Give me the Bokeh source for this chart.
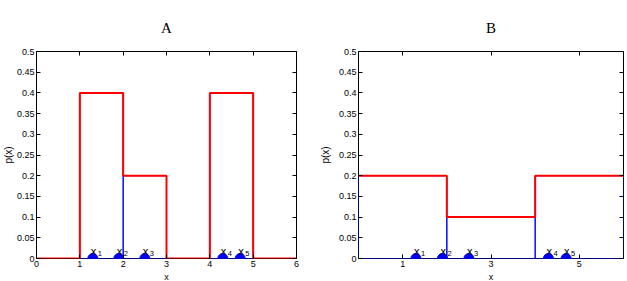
from bokeh.plotting import figure
from bokeh.layouts import row
from bokeh.models import LinearAxis, FixedTicker, Range1d, ColumnDataSource, Title
from bokeh.core.properties import value
from bokeh.embed import file_html
from bokeh.resources import INLINE

# ---------------- data ----------------
edges_a = [0, 1, 2, 3, 4, 5, 6]
density_a = [0, 0.4, 0.2, 0, 0.4, 0]
edges_b = [0, 2, 4, 6]
density_b = [0.2, 0.1, 0.2]
samples = [1.3, 1.9, 2.5, 4.3, 4.7]
sample_subs = ["1", "2", "3", "4", "5"]
xticks_a = [0, 1, 2, 3, 4, 5, 6]
xticks_b = [1, 3, 5]
yticks = [0, 0.05, 0.1, 0.15, 0.2, 0.25, 0.3, 0.35, 0.4, 0.45, 0.5]
titles = ["A", "B"]

FONT = "Liberation Sans"
RED = "#ff0000"
BLUE = "#0000ff"


def make_panel(title, edges, dens, xticks, width, b_left, b_right, ylab_standoff):
    p = figure(width=width, height=281, output_backend="svg", toolbar_location=None,
               x_range=Range1d(0, 6), y_range=Range1d(0, 0.5),
               min_border_left=b_left, min_border_right=b_right,
               min_border_top=51, min_border_bottom=22)
    p.grid.visible = False
    p.outline_line_color = "black"
    p.outline_line_width = 1
    p.background_fill_color = "white"
    p.border_fill_color = "white"

    p.title.text = title
    p.title.text_font = "Liberation Serif"
    p.title.text_font_size = "15px"
    p.title.text_font_style = "normal"
    p.title.text_color = "black"
    p.title.align = "center"
    p.title.standoff = 31

    for ax in (p.xaxis[0], p.yaxis[0]):
        ax.major_tick_in = 4
        ax.major_tick_out = 0
        ax.minor_tick_line_color = None
        ax.axis_line_color = None
        ax.major_label_text_font = FONT
        ax.major_label_text_font_size = "9px"
        ax.major_label_text_color = "black"
        ax.major_label_standoff = 2
    p.xaxis[0].ticker = FixedTicker(ticks=xticks)
    p.yaxis[0].ticker = FixedTicker(ticks=yticks)
    p.yaxis[0].major_label_overrides = {t: ("%g" % t) for t in yticks}

    # mirrored ticks on top and right
    top = LinearAxis(ticker=FixedTicker(ticks=xticks))
    right = LinearAxis(ticker=FixedTicker(ticks=yticks))
    top.major_label_overrides = {t: "" for t in xticks}
    right.major_label_overrides = {t: "" for t in yticks}
    for ax in (top, right):
        ax.major_tick_in = 4
        ax.major_tick_out = 0
        ax.minor_tick_line_color = None
        ax.axis_line_color = None
        ax.major_label_standoff = 0
    p.add_layout(top, "above")
    p.add_layout(right, "right")

    # axis titles as side-panel titles
    ylab = Title(text="p(x)", text_font=FONT, text_font_size="10px", text_font_style="normal",
                 text_color="black", align="center", standoff=ylab_standoff)
    p.add_layout(ylab, "left")
    xlab = Title(text="x", text_font=FONT, text_font_size="9px", text_font_style="normal",
                 text_color="black", align="center", standoff=0)
    p.add_layout(xlab, "below")

    # blue histogram bars (outlines)
    lefts = [edges[i] for i in range(len(dens)) if dens[i] > 0]
    rights = [edges[i + 1] for i in range(len(dens)) if dens[i] > 0]
    tops = [d for d in dens if d > 0]
    p.quad(left=lefts, right=rights, bottom=0, top=tops, fill_color=None,
           line_color=BLUE, line_width=1)

    # red density step
    sx = list(edges)
    sy = list(dens) + [dens[-1]]
    p.step(sx, sy, mode="after", line_color=RED, line_width=2)

    # samples
    src = ColumnDataSource(dict(x=samples, y=[0] * len(samples), sub=sample_subs,
                                xt=["x"] * len(samples)))
    p.scatter("x", "y", source=src, size=10, fill_color=BLUE, line_color=BLUE)
    p.text("x", "y", text="xt", source=src, x_offset=-2, y_offset=-8,
           text_font=value(FONT), text_font_size="11px", text_align="left",
           text_baseline="alphabetic", text_color="black")
    p.text("x", "y", text="sub", source=src, x_offset=5, y_offset=-5,
           text_font=value(FONT), text_font_size="7.5px", text_align="left",
           text_baseline="alphabetic", text_color="black")
    return p


pA = make_panel(titles[0], edges_a, density_a, xticks_a, 313, 33, 17, 0)
pB = make_panel(titles[1], edges_b, density_b, xticks_b, 314, 44, 4, 9)

layout = row(pA, pB)
open("out.html", "w").write(file_html(layout, INLINE))
